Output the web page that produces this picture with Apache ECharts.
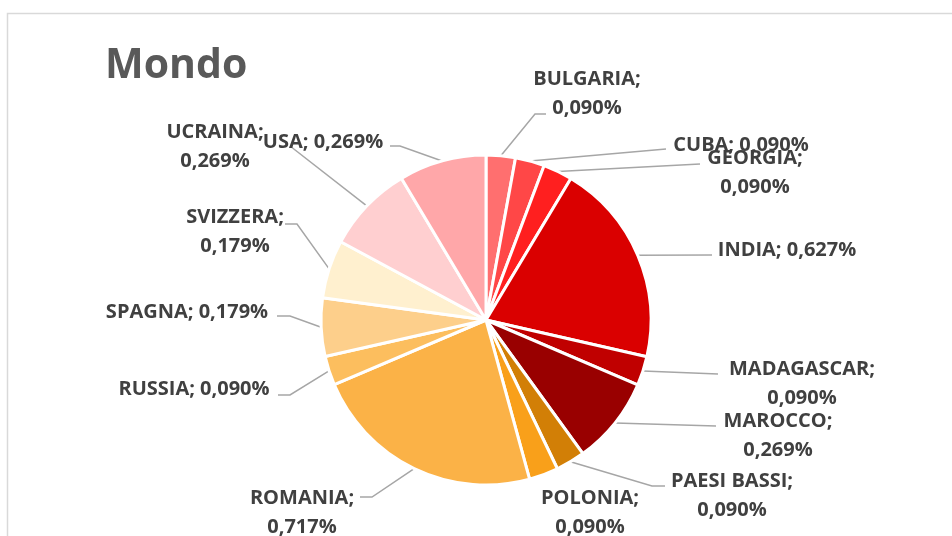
<!DOCTYPE html>
<html>
<head>
<meta charset="utf-8">
<script src="https://cdn.jsdelivr.net/npm/echarts@6/dist/echarts.min.js"></script>
<style>
  html, body { margin: 0; padding: 0; background: #fff; }
  #chart { width: 952px; height: 536px; }
</style>
</head>
<body>
<div id="chart"></div>
<script>
// slices clockwise from 12 o'clock
const countries = ["BULGARIA", "CUBA", "GEORGIA", "INDIA", "MADAGASCAR", "MAROCCO", "PAESI BASSI",
  "POLONIA", "ROMANIA", "RUSSIA", "SPAGNA", "SVIZZERA", "UCRAINA", "USA"];
const values = [0.090, 0.090, 0.090, 0.627, 0.090, 0.269, 0.090,
  0.090, 0.717, 0.090, 0.179, 0.179, 0.269, 0.269];
const colors = ["#ff6f6f", "#ff4747", "#ff1f1f", "#da0000", "#c00000", "#990000", "#d27f06",
  "#f9a01a", "#fbb247", "#fcbe5e", "#fdcf8b", "#fff0cf", "#ffcfd0", "#ffa7a9"];
// labels that wrap after the ";"
const wrapped = ["BULGARIA", "GEORGIA", "MADAGASCAR", "MAROCCO", "PAESI BASSI", "POLONIA",
  "ROMANIA", "SVIZZERA", "UCRAINA"];

// label placement (centre of text block) and leader line ends, as in the original
const labelPos = [
  [587, 94], [741, 145], [755, 173], [787, 250], [802, 384], [778, 436], [732, 496],
  [590, 513], [302, 513], [194, 389], [187, 312], [235, 232], [215, 147], [323, 142]
];
const leader = [
  [[535, 114], [546, 114]],
  [[666, 149]],
  [[700, 164]],
  [[712, 255]],
  [[718, 374]],
  [[716, 426]],
  [[652, 486], [665, 486]],
  null,
  [[372, 497], [360, 497]],
  [[290, 395], [278, 395]],
  [[290, 316], [277, 316]],
  [[297, 224], [285, 224]],
  [[290, 146]],
  [[400, 146], [390, 146]]
];

const fmt = v => v.toFixed(3).replace(".", ",") + "%";

const seriesData = countries.map((name, i) => ({
  name: name,
  value: values[i],
  itemStyle: { color: colors[i] },
  labelLine: { show: leader[i] !== null }
}));

const chart = echarts.init(document.getElementById("chart"));
chart.setOption({
  animation: false,
  title: {
    text: "Mondo",
    left: 100,
    top: 41,
    textStyle: {
      fontFamily: "Open Sans",
      fontWeight: "bold",
      fontSize: 41,
      color: "#595959"
    }
  },
  graphic: [{
    type: "rect",
    shape: { x: 7.5, y: 13.5, width: 1000, height: 600 },
    style: { fill: "none", stroke: "#d9d9d9", lineWidth: 1.5 },
    silent: true
  }],
  series: [{
    type: "pie",
    center: [486, 320],
    radius: [0, 165],
    startAngle: 90,
    clockwise: true,
    avoidLabelOverlap: false,
    itemStyle: { borderColor: "#fff", borderWidth: 3 },
    label: {
      show: true,
      position: "outside",
      fontFamily: "Open Sans",
      fontWeight: "bold",
      fontSize: 20,
      lineHeight: 29,
      color: "#404040",
      align: "center",
      formatter: p => p.name + ";" + (wrapped.indexOf(p.name) >= 0 ? "\n" : " ") + fmt(p.value)
    },
    labelLine: {
      show: true,
      lineStyle: { color: "#a6a6a6", width: 1.5 }
    },
    labelLayout: function (params) {
      const i = params.dataIndex;
      const out = {
        x: labelPos[i][0],
        y: labelPos[i][1],
        align: "center",
        verticalAlign: "middle",
        hideOverlap: false
      };
      if (leader[i] && params.labelLinePoints) {
        out.labelLinePoints = [params.labelLinePoints[0]].concat(leader[i]);
      }
      return out;
    },
    data: seriesData
  }]
});
</script>
</body>
</html>
